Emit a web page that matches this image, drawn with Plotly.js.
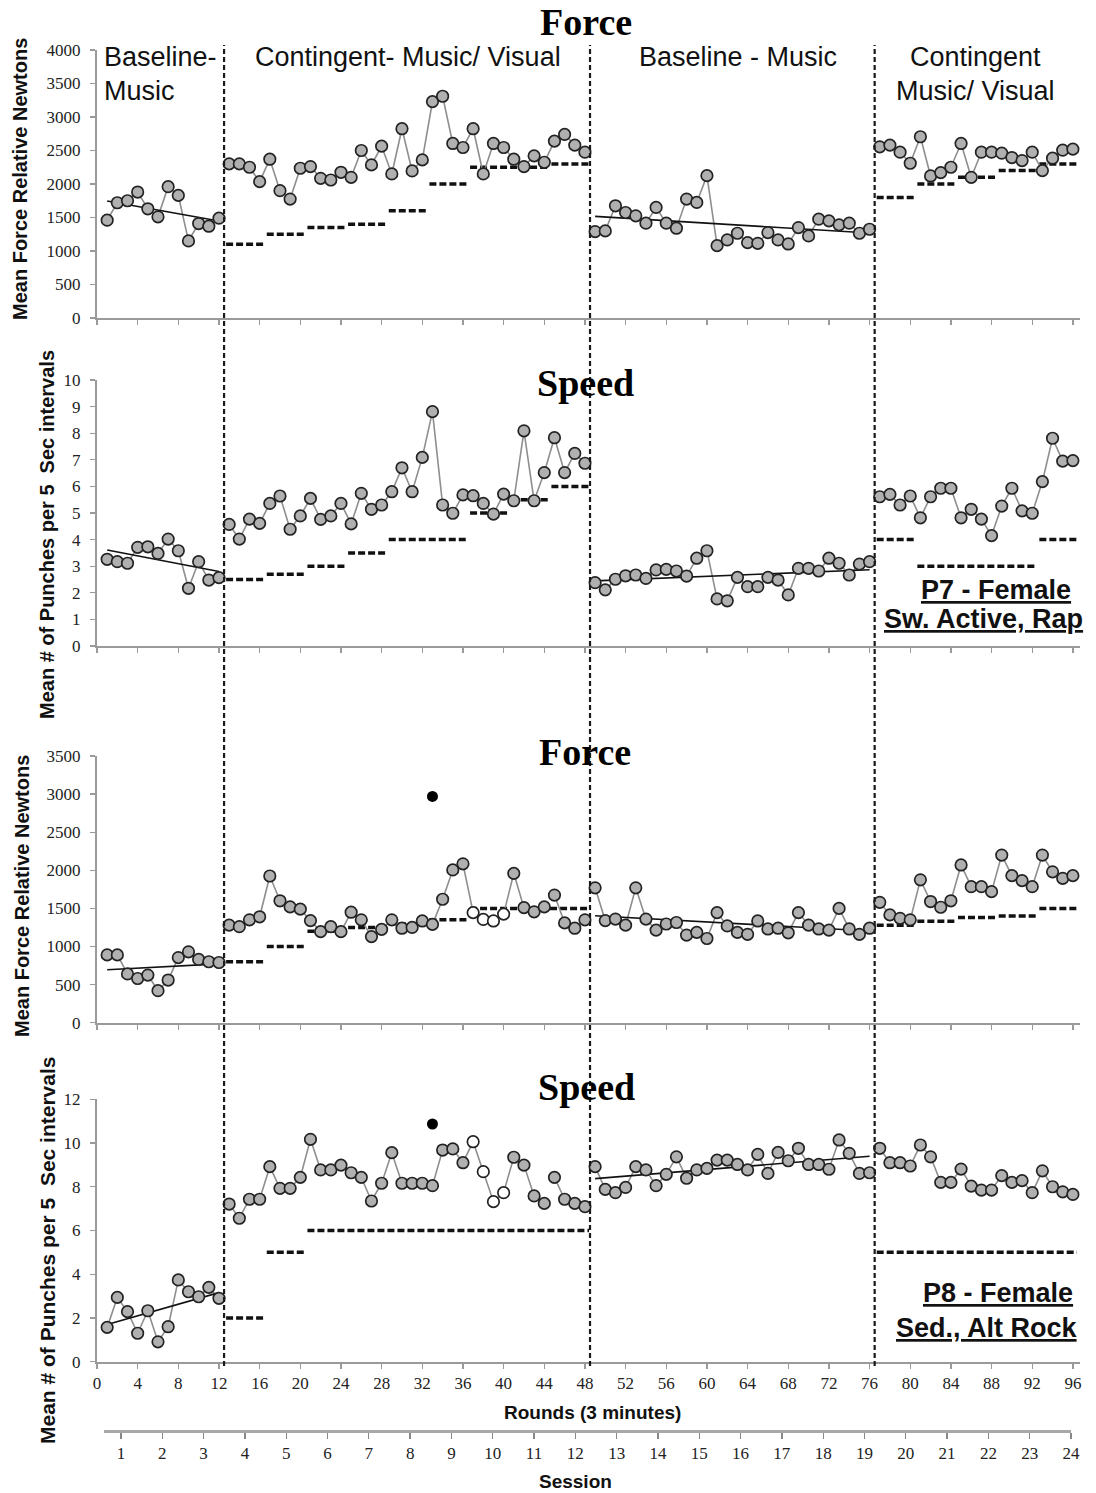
<!DOCTYPE html>
<html><head><meta charset="utf-8">
<script src="https://cdn.plot.ly/plotly-3.0.1.min.js"></script>
<style>html,body{margin:0;padding:0;background:#fff}#chart{width:1096px;height:1493px}</style>
</head><body><div id="chart"></div>
<script>
// ---------------- DATA ----------------
// Rounds: Baseline 1-12, Contingent 13-48, Baseline 49-76, Contingent 77-96
const phaseStarts = [1, 13, 49, 77];
const phaseLines = [12.5, 48.5, 76.5];

// P7 Force (Mean Force Relative Newtons)
const p7ForceBase1 = [1460,1720,1750,1880,1630,1510,1960,1830,1150,1410,1370,1490];
const p7ForceCont1 = [2300,2300,2250,2035,2370,1900,1775,2235,2260,2085,2060,2175,2100,2500,2285,2565,2150,2825,2195,2360,3230,3310,2605,2545,2825,2150,2605,2545,2370,2260,2420,2325,2640,2740,2580,2475];
const p7ForceBase2 = [1290,1300,1675,1575,1525,1415,1650,1415,1340,1775,1725,2125,1080,1165,1265,1125,1115,1275,1165,1105,1350,1225,1475,1450,1390,1415,1265,1325];
const p7ForceCont2 = [2555,2580,2475,2310,2705,2120,2170,2250,2605,2100,2475,2475,2460,2395,2350,2475,2200,2385,2505,2520];
const p7ForceCrit = [[13,16,1100],[17,20,1250],[21,24,1350],[25,28,1400],[29,32,1600],[33,36,2000],[37,44,2250],[45,48,2300],[77,80,1800],[81,84,2000],[85,88,2100],[89,92,2200],[93,96,2300]];

// P7 Speed (Mean # of punches per 5 sec)
const p7SpeedBase1 = [3.26,3.17,3.11,3.71,3.73,3.48,4.02,3.58,2.17,3.17,2.48,2.57];
const p7SpeedCont1 = [4.57,4.02,4.77,4.61,5.36,5.64,4.39,4.89,5.55,4.76,4.89,5.36,4.59,5.74,5.14,5.30,5.80,6.70,5.80,7.09,8.81,5.30,4.99,5.68,5.65,5.36,4.96,5.71,5.46,8.09,5.46,6.52,7.83,6.52,7.24,6.87];
const p7SpeedBase2 = [2.38,2.11,2.51,2.64,2.67,2.54,2.86,2.88,2.82,2.63,3.30,3.58,1.77,1.70,2.58,2.23,2.23,2.58,2.48,1.92,2.92,2.92,2.82,3.30,3.11,2.67,3.08,3.17];
const p7SpeedCont2 = [5.61,5.70,5.30,5.64,4.82,5.61,5.93,5.93,4.82,5.14,4.77,4.15,5.26,5.93,5.08,4.99,6.18,7.81,6.95,6.97];
const p7SpeedCrit = [[13,16,2.5],[17,20,2.7],[21,24,3],[25,28,3.5],[29,36,4],[37,40,5],[41,44,5.5],[45,48,6],[77,80,4],[81,92,3],[93,96,4]];

// P8 Force
const p8ForceBase1 = [890,890,640,580,625,420,560,855,930,830,800,790];
const p8ForceCont1 = [1280,1260,1350,1390,1925,1600,1520,1490,1340,1195,1260,1195,1450,1350,1130,1225,1350,1240,1250,1335,1290,1620,2005,2085,1445,1355,1335,1425,1960,1510,1455,1520,1675,1310,1240,1350];
const p8ForceBase2 = [1770,1340,1360,1280,1770,1360,1215,1295,1315,1150,1185,1105,1445,1270,1185,1160,1335,1230,1240,1180,1445,1280,1230,1215,1500,1230,1160,1240];
const p8ForceCont2 = [1580,1415,1370,1350,1875,1590,1515,1600,2070,1785,1785,1720,2200,1930,1865,1785,2200,1980,1895,1930];
const p8ForceCrit = [[13,16,800],[17,20,1000],[21,24,1200],[25,28,1250],[29,32,1300],[33,36,1350],[37,48,1500],[77,80,1280],[81,84,1330],[85,88,1380],[89,92,1400],[93,96,1500]];
const p8ForceOutlier = [[33, 2970]];

// P8 Speed
const p8SpeedBase1 = [1.57,2.94,2.29,1.30,2.33,0.91,1.60,3.74,3.20,2.97,3.40,2.90];
const p8SpeedCont1 = [7.21,6.56,7.43,7.43,8.92,7.93,7.93,8.43,10.17,8.77,8.77,8.99,8.64,8.43,7.35,8.16,9.56,8.16,8.16,8.16,8.05,9.68,9.73,9.10,10.06,8.69,7.32,7.73,9.35,8.99,7.58,7.24,8.43,7.43,7.24,7.09];
const p8SpeedBase2 = [8.92,7.88,7.73,7.97,8.92,8.77,8.05,8.57,9.37,8.39,8.77,8.84,9.22,9.22,9.02,8.77,9.48,8.61,9.57,9.19,9.76,9.02,9.02,8.80,10.14,9.53,8.61,8.64];
const p8SpeedCont2 = [9.76,9.10,9.10,8.95,9.91,9.37,8.20,8.20,8.81,8.03,7.85,7.85,8.51,8.20,8.28,7.73,8.73,8.00,7.77,7.65];
const p8SpeedCrit = [[13,16,2],[17,20,5],[21,48,6],[77,96,5]];
const p8SpeedOutlier = [[33, 10.87]];

const p8OpenRounds = [37,38,39,40];
const p8LineBreakAfter = [44];

const roundTicks = [0,4,8,12,16,20,24,28,32,36,40,44,48,52,56,60,64,68,72,76,80,84,88,92,96];
const sessionTicks = [1,2,3,4,5,6,7,8,9,10,11,12,13,14,15,16,17,18,19,20,21,22,23,24];

// ---------------- LAYOUT HELPERS ----------------
const W = 1096, H = 1493, ML = 97, MR = 16, PW = W - ML - MR;
const py = p => 1 - p / H;
const pxX = p => (p - ML) / PW;

const panels = [
  {phases:[p7ForceBase1,p7ForceCont1,p7ForceBase2,p7ForceCont2], crit:p7ForceCrit, open:[], breaks:[], outliers:[], top:50, bottom:318, range:[0,4000], dtick:500},
  {phases:[p7SpeedBase1,p7SpeedCont1,p7SpeedBase2,p7SpeedCont2], crit:p7SpeedCrit, open:[], breaks:[], outliers:[], top:380, bottom:646, range:[0,10], dtick:1},
  {phases:[p8ForceBase1,p8ForceCont1,p8ForceBase2,p8ForceCont2], crit:p8ForceCrit, open:p8OpenRounds, breaks:p8LineBreakAfter, outliers:p8ForceOutlier, top:756, bottom:1022.7, range:[0,3500], dtick:500},
  {phases:[p8SpeedBase1,p8SpeedCont1,p8SpeedBase2,p8SpeedCont2], crit:p8SpeedCrit, open:p8OpenRounds, breaks:p8LineBreakAfter, outliers:p8SpeedOutlier, top:1099.3, bottom:1361.7, range:[0,12], dtick:2}
];

function fit(xs, ys) {
  const n = xs.length;
  const mx = xs.reduce((a,b)=>a+b,0)/n, my = ys.reduce((a,b)=>a+b,0)/n;
  let sxy = 0, sxx = 0;
  for (let i=0;i<n;i++){ sxy += (xs[i]-mx)*(ys[i]-my); sxx += (xs[i]-mx)*(xs[i]-mx); }
  const b = sxy/sxx;
  return x => my + b*(x-mx);
}

const traces = [];
const layout = {
  width: W, height: H,
  margin: {l: ML, r: MR, t: 0, b: 0},
  paper_bgcolor: '#fff', plot_bgcolor: 'rgba(0,0,0,0)',
  showlegend: false,
  font: {family: 'Liberation Sans, Arial, sans-serif', color: '#111'},
  annotations: [], shapes: []
};

const AXCOL = '#9a9a9a';
const SERIF = 'Liberation Serif, Times New Roman, serif';
panels.forEach((p, k) => {
  const n = k === 0 ? '' : String(k+1);
  const xa = 'x' + n, ya = 'y' + n;
  layout['xaxis' + n] = {
    domain: [0,1], anchor: ya, range: [0, 96.7], fixedrange: true,
    showgrid: false, zeroline: false, showline: true, linecolor: AXCOL, linewidth: 2,
    ticks: 'outside', ticklen: 5, tickwidth: 1.3, tickcolor: AXCOL,
    tickmode: 'array', tickvals: roundTicks, ticktext: roundTicks.map(String),
    showticklabels: k === 3,
    tickfont: {family: SERIF, size: 17, color: '#222'}
  };
  if (k > 0) layout['xaxis' + n].matches = 'x';
  layout['yaxis' + n] = {
    domain: [py(p.bottom), py(p.top)], anchor: xa, range: p.range, fixedrange: true,
    showgrid: false, zeroline: false, showline: true, linecolor: AXCOL, linewidth: 2,
    ticks: 'outside', ticklen: 5, tickwidth: 1.3, tickcolor: AXCOL,
    dtick: p.dtick, tick0: 0, ticklabelstandoff: 6,
    tickfont: {family: SERIF, size: 17, color: '#222'}
  };

  // criterion dashed segments
  const cx = [], cy = [];
  p.crit.forEach(c => { cx.push(c[0]-0.3, c[1]+0.4, null); cy.push(c[2], c[2], null); });
  traces.push({type:'scatter', mode:'lines', x: cx, y: cy, xaxis: xa, yaxis: ya,
    line: {color:'#111', width:3.5, dash:'7px,3px'}, hoverinfo:'skip', connectgaps:false});

  // phase data lines
  const mx = [], my = [], mc = [];
  p.phases.forEach((vals, pi) => {
    const lx = [], ly = [];
    vals.forEach((v, i) => {
      const r = phaseStarts[pi] + i;
      lx.push(r); ly.push(v);
      if (p.breaks.includes(r) && i < vals.length-1) { lx.push(r+0.5); ly.push(null); }
      mx.push(r); my.push(v); mc.push(p.open.includes(r) ? '#ffffff' : '#b0b0b0');
    });
    traces.push({type:'scatter', mode:'lines', x: lx, y: ly, xaxis: xa, yaxis: ya,
      line: {color:'#8e8e8e', width:1.6}, connectgaps:false, hoverinfo:'skip'});
  });

  // trend lines for baseline phases
  [0, 2].forEach(pi => {
    const vals = p.phases[pi];
    const xs = vals.map((_, i) => phaseStarts[pi] + i);
    const f = fit(xs, vals);
    const x0 = xs[0], x1 = xs[xs.length-1];
    traces.push({type:'scatter', mode:'lines', x:[x0, x1], y:[f(x0), f(x1)], xaxis: xa, yaxis: ya,
      line: {color:'#111', width:1.6}, hoverinfo:'skip'});
  });

  // markers
  traces.push({type:'scatter', mode:'markers', x: mx, y: my, xaxis: xa, yaxis: ya,
    marker: {size:11.5, color: mc, line: {color:'#222', width:1.7}}, hoverinfo:'skip'});

  // outliers
  if (p.outliers.length) {
    traces.push({type:'scatter', mode:'markers', x: p.outliers.map(o=>o[0]), y: p.outliers.map(o=>o[1]),
      xaxis: xa, yaxis: ya, marker: {size:11, color:'#000'}, hoverinfo:'skip'});
  }
});

// Session axis (free) at the bottom
layout.xaxis5 = {
  domain: [pxX(104), pxX(1071)], anchor: 'free', position: py(1431), range: [0.588, 24], fixedrange: true,
  showgrid: false, zeroline: false, showline: true, linecolor: '#a8a8a8', linewidth: 3,
  ticks: 'outside', ticklen: 6, tickwidth: 1.3, tickcolor: '#888',
  tickmode: 'array', tickvals: sessionTicks, ticktext: sessionTicks.map(String),
  tickfont: {family: SERIF, size: 17, color: '#222'}
};
layout.yaxis5 = {domain: [0, 0.02], anchor: 'x5', visible: false, range: [0, 1], fixedrange: true};
traces.push({type:'scatter', mode:'markers', x:[1], y:[0.5], xaxis:'x5', yaxis:'y5',
  marker:{size:1, opacity:0}, hoverinfo:'skip'});

// phase change lines
phaseLines.forEach(xv => {
  layout.shapes.push({type:'line', xref:'x', yref:'paper', x0: xv, x1: xv, y0: py(1366), y1: py(45),
    line: {color:'#1a1a1a', width:2.2, dash:'5px,3px'}});
});

// annotations
function ann(text, xpx, ypx, opts) {
  layout.annotations.push(Object.assign({
    text, x: pxX(xpx), y: py(ypx), xref:'paper', yref:'paper', showarrow:false,
    xanchor:'center', yanchor:'middle'
  }, opts || {}));
}
const serifTitle = {family: SERIF, size:38, color:'#000'};
ann('<b>Force</b>', 586, 22, {font: serifTitle});
ann('<b>Speed</b>', 585, 383, {font: serifTitle});
ann('<b>Force</b>', 585, 752, {font: serifTitle});
ann('<b>Speed</b>', 586, 1087, {font: serifTitle});

const phaseFont = {family:'Liberation Sans, Arial, sans-serif', size:27, color:'#111'};
ann('Baseline-', 102, 57, {font: phaseFont, xanchor:'left'});
ann('Music', 102, 91, {font: phaseFont, xanchor:'left'});
ann('Contingent- Music/ Visual', 408, 57, {font: phaseFont});
ann('Baseline - Music', 738, 57, {font: phaseFont});
ann('Contingent', 975, 57, {font: phaseFont});
ann('Music/ Visual', 975, 91, {font: phaseFont});

const pFont = {family:'Liberation Sans, Arial, sans-serif', size:27, color:'#111'};
ann('<b><u>P7 - Female</u></b>', 996, 590, {font: pFont});
ann('<b><u>Sw. Active, Rap</u></b>', 983, 619, {font: pFont});
ann('<b><u>P8 - Female</u></b>', 998, 1293, {font: pFont});
ann('<b><u>Sed., Alt Rock</u></b>', 987, 1328, {font: pFont});

const yTitleFont = {family:'Liberation Sans, Arial, sans-serif', size:20, color:'#111'};
ann('<b>Mean Force Relative Newtons</b>', 20, 179, {font: yTitleFont, textangle:-90});
ann('<b>Mean # of Punches per 5\u00a0 Sec intervals</b>', 47, 535, {font: yTitleFont, textangle:-90});
ann('<b>Mean Force Relative Newtons</b>', 22, 896, {font: yTitleFont, textangle:-90});
ann('<b>Mean # of Punches per 5\u00a0 Sec intervals</b>', 47, 1250, {font: Object.assign({}, yTitleFont, {size:21}), textangle:-90});

const axTitleFont = {family:'Liberation Sans, Arial, sans-serif', size:19, color:'#111'};
ann('<b>Rounds (3 minutes)</b>', 592, 1412, {font: axTitleFont});
ann('<b>Session</b>', 575, 1481, {font: axTitleFont});

Plotly.newPlot('chart', traces, layout, {staticPlot: true, displayModeBar: false});
</script>
</body></html>
